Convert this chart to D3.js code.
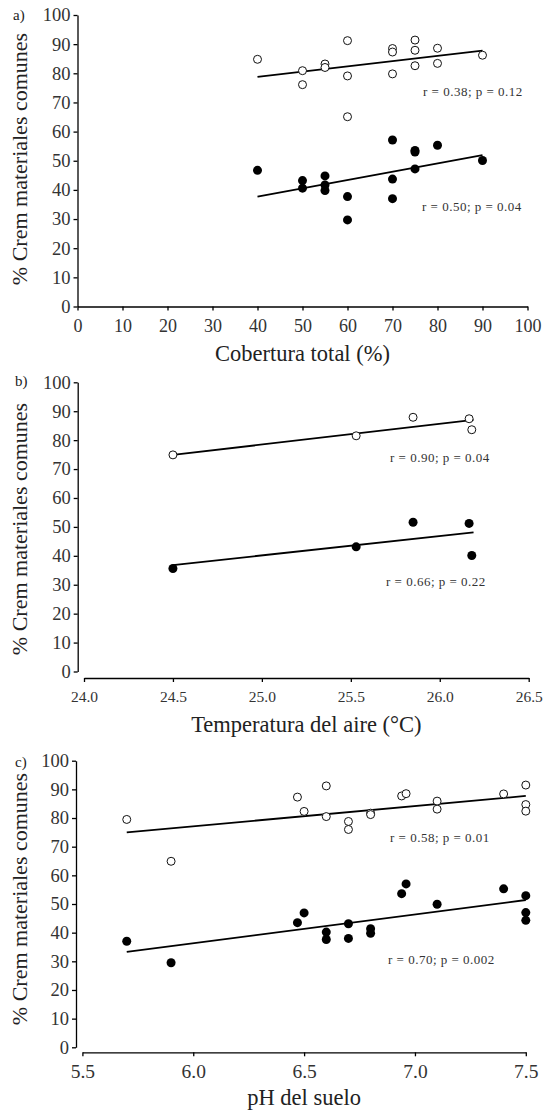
<!DOCTYPE html>
<html>
<head>
<meta charset="utf-8">
<script src="https://cdn.jsdelivr.net/npm/d3@7"></script>
<style>
  body { margin: 0; background: #fff; }
  text { font-family: "Liberation Serif", "Times New Roman", serif; }
</style>
</head>
<body>
<div id="chart"></div>
<script>
// values

// a) Cobertura total (%)
var coberturaOpenX = [40, 50, 50, 55, 55, 60, 60, 60, 70, 70, 70, 75, 75, 75, 80, 80, 90];
var coberturaOpenY = [84.8, 80.9, 76.1, 83.2, 82.0, 91.2, 79.1, 65.1, 88.5, 87.3, 79.8, 91.4, 87.9, 82.6, 88.6, 83.4, 86.2];
var coberturaFillX = [40, 50, 50, 55, 55, 55, 60, 60, 70, 70, 70, 75, 75, 75, 80, 90];
var coberturaFillY = [46.7, 43.2, 40.6, 44.8, 41.7, 39.8, 37.7, 29.7, 57.1, 43.7, 37.0, 53.5, 53.0, 47.2, 55.3, 50.1];
var coberturaOpenFit = [[40, 78.8], [90, 87.8]];
var coberturaFillFit = [[40, 37.7], [90, 51.9]];

// b) Temperatura del aire
var tempX = [24.5, 25.53, 25.85, 26.165, 26.18];
var tempOpenY = [74.9, 81.5, 87.9, 87.4, 83.6];
var tempFillY = [35.6, 43.1, 51.6, 51.2, 40.1];
var tempOpenFit = [[24.5, 74.9], [26.19, 87.0]];
var tempFillFit = [[24.5, 36.8], [26.19, 48.1]];

// c) pH del suelo
var phOpenX = [5.7, 5.9, 6.47, 6.5, 6.6, 6.6, 6.7, 6.7, 6.8, 6.8, 6.94, 6.96, 7.1, 7.1, 7.4, 7.5, 7.5, 7.5];
var phOpenY = [79.5, 64.9, 87.3, 82.3, 91.2, 80.5, 78.8, 76.0, 81.7, 81.2, 87.7, 88.5, 85.9, 83.1, 88.4, 91.5, 84.7, 82.4];
var phFillX = [5.7, 5.9, 6.47, 6.5, 6.6, 6.6, 6.7, 6.7, 6.8, 6.8, 6.94, 6.96, 7.1, 7.4, 7.5, 7.5, 7.5];
var phFillY = [37.0, 29.5, 43.5, 46.9, 40.2, 37.6, 43.1, 38.0, 41.4, 39.8, 53.6, 57.0, 49.9, 55.3, 52.9, 47.0, 44.3];
var phOpenFit = [[5.7, 75.0], [7.5, 87.7]];
var phFillFit = [[5.7, 33.3], [7.5, 51.4]];

var yTicks = [0, 10, 20, 30, 40, 50, 60, 70, 80, 90, 100];
var coberturaTicks = [0, 10, 20, 30, 40, 50, 60, 70, 80, 90, 100];
var tempTicks = [24.0, 24.5, 25.0, 25.5, 26.0, 26.5];
var phTicks = [5.5, 6.0, 6.5, 7.0, 7.5];

var statsA = ["r = 0.38; p = 0.12", "r = 0.50; p = 0.04"];
var statsB = ["r = 0.90; p = 0.04", "r = 0.66; p = 0.22"];
var statsC = ["r = 0.58; p = 0.01", "r = 0.70; p = 0.002"];

var yTitle = "% Crem materiales comunes";

var svg = d3.select("#chart")
  .append("svg")
  .attr("width", 543)
  .attr("height", 1112);

var serif = '"Liberation Serif", "Times New Roman", serif';

function zip(xs, ys) {
  return xs.map(function(x, i) { return [x, ys[i]]; });
}

function drawPanel(p) {
  var x = d3.scaleLinear().domain(p.xDomain).range(p.xRange);
  var y = d3.scaleLinear().domain([0, 100]).range(p.yRange);
  var g = svg.append("g");

  // y axis
  var yAxis = g.append("g")
    .attr("transform", `translate(${p.yAxisX}, 0)`)
    .call(d3.axisLeft(y).tickValues(yTicks).tickSize(4).tickSizeOuter(0).tickPadding(3));
  yAxis.attr("font-family", serif);
  yAxis.selectAll("text").style("font-size", "18.5px").attr("fill", "#333");

  // x axis
  var xAxis = g.append("g")
    .attr("transform", `translate(0, ${p.xAxisY})`)
    .call(d3.axisBottom(x).tickValues(p.xTicks).tickFormat(d3.format(p.fmt)).tickSize(4).tickSizeOuter(0));
  xAxis.attr("font-family", serif);
  xAxis.selectAll("text").style("font-size", p.xFont).attr("fill", "#333")
    .attr("y", p.labelOffset).attr("dy", 0);

  g.selectAll(".domain, .tick line").attr("stroke", "#000").attr("stroke-width", 1.3);

  // fitted lines
  var line = d3.line().x(d => x(d[0])).y(d => y(d[1]));
  [p.openFit, p.fillFit].forEach(function(f) {
    g.append("path")
      .attr("d", line(f))
      .attr("fill", "none")
      .attr("stroke", "#000")
      .attr("stroke-width", 1.8);
  });

  // points
  g.append("g").selectAll("circle")
    .data(p.open)
    .enter()
    .append("circle")
    .attr("cx", d => x(d[0]))
    .attr("cy", d => y(d[1]))
    .attr("r", 4)
    .attr("fill", "#fff")
    .attr("stroke", "#111")
    .attr("stroke-width", 1);

  g.append("g").selectAll("circle")
    .data(p.fill)
    .enter()
    .append("circle")
    .attr("cx", d => x(d[0]))
    .attr("cy", d => y(d[1]))
    .attr("r", 4.5)
    .attr("fill", "#000");

  // r / p annotations
  p.stats.forEach(function(s, i) {
    g.append("text")
      .attr("x", p.statPos[i][0])
      .attr("y", p.statPos[i][1])
      .attr("dy", "0.35em")
      .style("font-size", "13px")
      .style("letter-spacing", "0.5px")
      .attr("fill", "#333")
      .text(s);
  });

  // axis titles
  g.append("text")
    .attr("x", (p.xRange[0] + p.xRange[1]) / 2)
    .attr("y", p.xTitleY)
    .attr("text-anchor", "middle")
    .style("font-size", "22.5px")
    .attr("fill", "#222")
    .text(p.xTitle);

  g.append("text")
    .attr("transform", `translate(27, ${p.yTitleMid}) rotate(-90)`)
    .attr("text-anchor", "middle")
    .style("font-size", "22px")
    .attr("fill", "#222")
    .text(yTitle);

  // panel letter
  g.append("text")
    .attr("x", p.letterPos[0])
    .attr("y", p.letterPos[1])
    .style("font-size", "15px")
    .attr("fill", "#222")
    .text(p.letter);
}

drawPanel({
  letter: "a)", letterPos: [13, 20],
  xDomain: [0, 100], xRange: [77.5, 527.5], yRange: [306.5, 15],
  yAxisX: 77.5, xAxisY: 306.5, xTicks: coberturaTicks, fmt: "d", labelOffset: 25, xFont: "18px",
  open: zip(coberturaOpenX, coberturaOpenY), fill: zip(coberturaFillX, coberturaFillY),
  openFit: coberturaOpenFit, fillFit: coberturaFillFit,
  stats: statsA, statPos: [[423, 91], [422, 206]],
  xTitle: "Cobertura total (%)", xTitleY: 361, yTitleMid: 159
});

drawPanel({
  letter: "b)", letterPos: [15, 386],
  xDomain: [24.0, 26.5], xRange: [84, 528.7], yRange: [671.5, 382.3],
  yAxisX: 77.7, xAxisY: 678, xTicks: tempTicks, fmt: ".1f", labelOffset: 23.5, xFont: "15.5px",
  open: tempX.map((v, i) => [v, tempOpenY[i]]), fill: tempX.map((v, i) => [v, tempFillY[i]]),
  openFit: tempOpenFit, fillFit: tempFillFit,
  stats: statsB, statPos: [[390, 457], [386, 581]],
  xTitle: "Temperatura del aire (°C)", xTitleY: 731.5, yTitleMid: 529
});

drawPanel({
  letter: "c)", letterPos: [15, 767],
  xDomain: [5.5, 7.5], xRange: [82.4, 525.8], yRange: [1047.3, 760.7],
  yAxisX: 76, xAxisY: 1052.3, xTicks: phTicks, fmt: ".1f", labelOffset: 25.5, xFont: "19.5px",
  open: zip(phOpenX, phOpenY), fill: zip(phFillX, phFillY),
  openFit: phOpenFit, fillFit: phFillFit,
  stats: statsC, statPos: [[390, 837], [388, 959]],
  xTitle: "pH del suelo", xTitleY: 1105, yTitleMid: 899
});
</script>
</body>
</html>
